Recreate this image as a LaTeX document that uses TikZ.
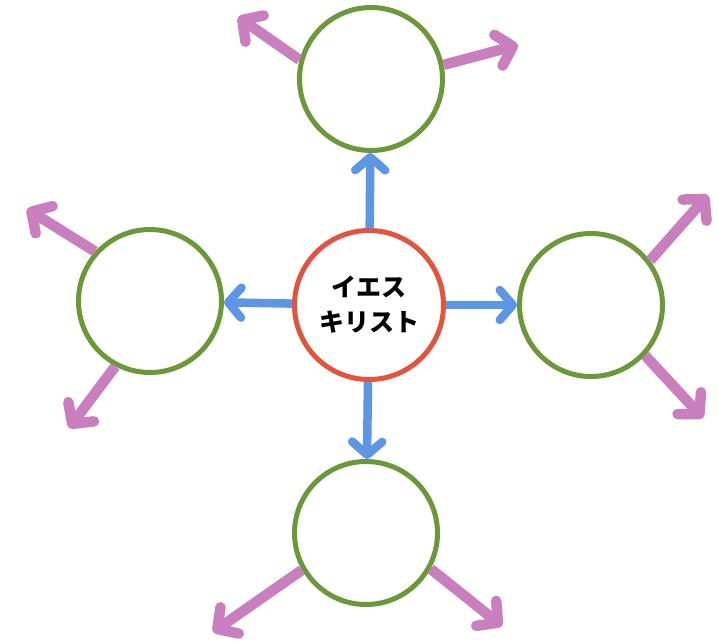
\documentclass[tikz,border=0pt]{standalone}
\usepackage{fontspec}
\newfontfamily\jpfont{Noto Sans CJK JP}
\usetikzlibrary{arrows.meta}
\definecolor{ringred}{RGB}{224,84,64}
\definecolor{ringgreen}{RGB}{106,152,58}
\definecolor{arrowblue}{RGB}{92,150,228}
\definecolor{arrowpink}{RGB}{201,126,190}

\begin{document}
\begin{tikzpicture}[x=1pt, y=-1pt,
    ring/.style={circle, draw=ringgreen, line width=5pt, minimum size=143pt, inner sep=0pt},
    core/.style={circle, draw=ringred, line width=5pt, minimum size=149pt, inner sep=0pt, align=center, font=\jpfont\bfseries\fontsize{25}{35}\selectfont},
    inward/.style={draw=arrowblue, line width=8.5pt, -{Straight Barb[round, length=13pt, width=30pt]}},
    outward/.style={draw=arrowpink, line width=10.5pt, -{Straight Barb[round, length=15pt, width=32pt]}}]
    \useasboundingbox[fill=white] (0,0) rectangle (718,641);
    % circles
    \node[core] (jesus) at (369,305) {イエス\\キリスト};
    \node[ring] (top) at (371,79) {};
    \node[ring] (left) at (150,301) {};
    \node[ring] (right) at (591,305) {};
    \node[ring] (bottom) at (366,533) {};
    % blue arrows
    \draw[inward] (jesus) -- (top);
    \draw[inward] (jesus) -- (left);
    \draw[inward] (jesus) -- (right);
    \draw[inward] (jesus) -- (bottom);
    % tips of the pink arrows
    \coordinate (top-a) at (238,17);
    \coordinate (top-b) at (518,45);
    \coordinate (left-a) at (27,209);
    \coordinate (left-b) at (69,428);
    \coordinate (right-a) at (708,195);
    \coordinate (right-b) at (703,418);
    \coordinate (bottom-a) at (213,632);
    \coordinate (bottom-b) at (502,626);
    % pink arrows
    \draw[outward] (top.165) -- (top-a);
    \draw[outward] (top.11) -- (top-b);
    \draw[outward] (left.138) -- (left-a);
    \draw[outward] (left.242) -- (left-b);
    \draw[outward] (right.37) -- (right-a);
    \draw[outward] (right.317) -- (right-b);
    \draw[outward] (bottom.210) -- (bottom-a);
    \draw[outward] (bottom.331) -- (bottom-b);
\end{tikzpicture}
\end{document}
